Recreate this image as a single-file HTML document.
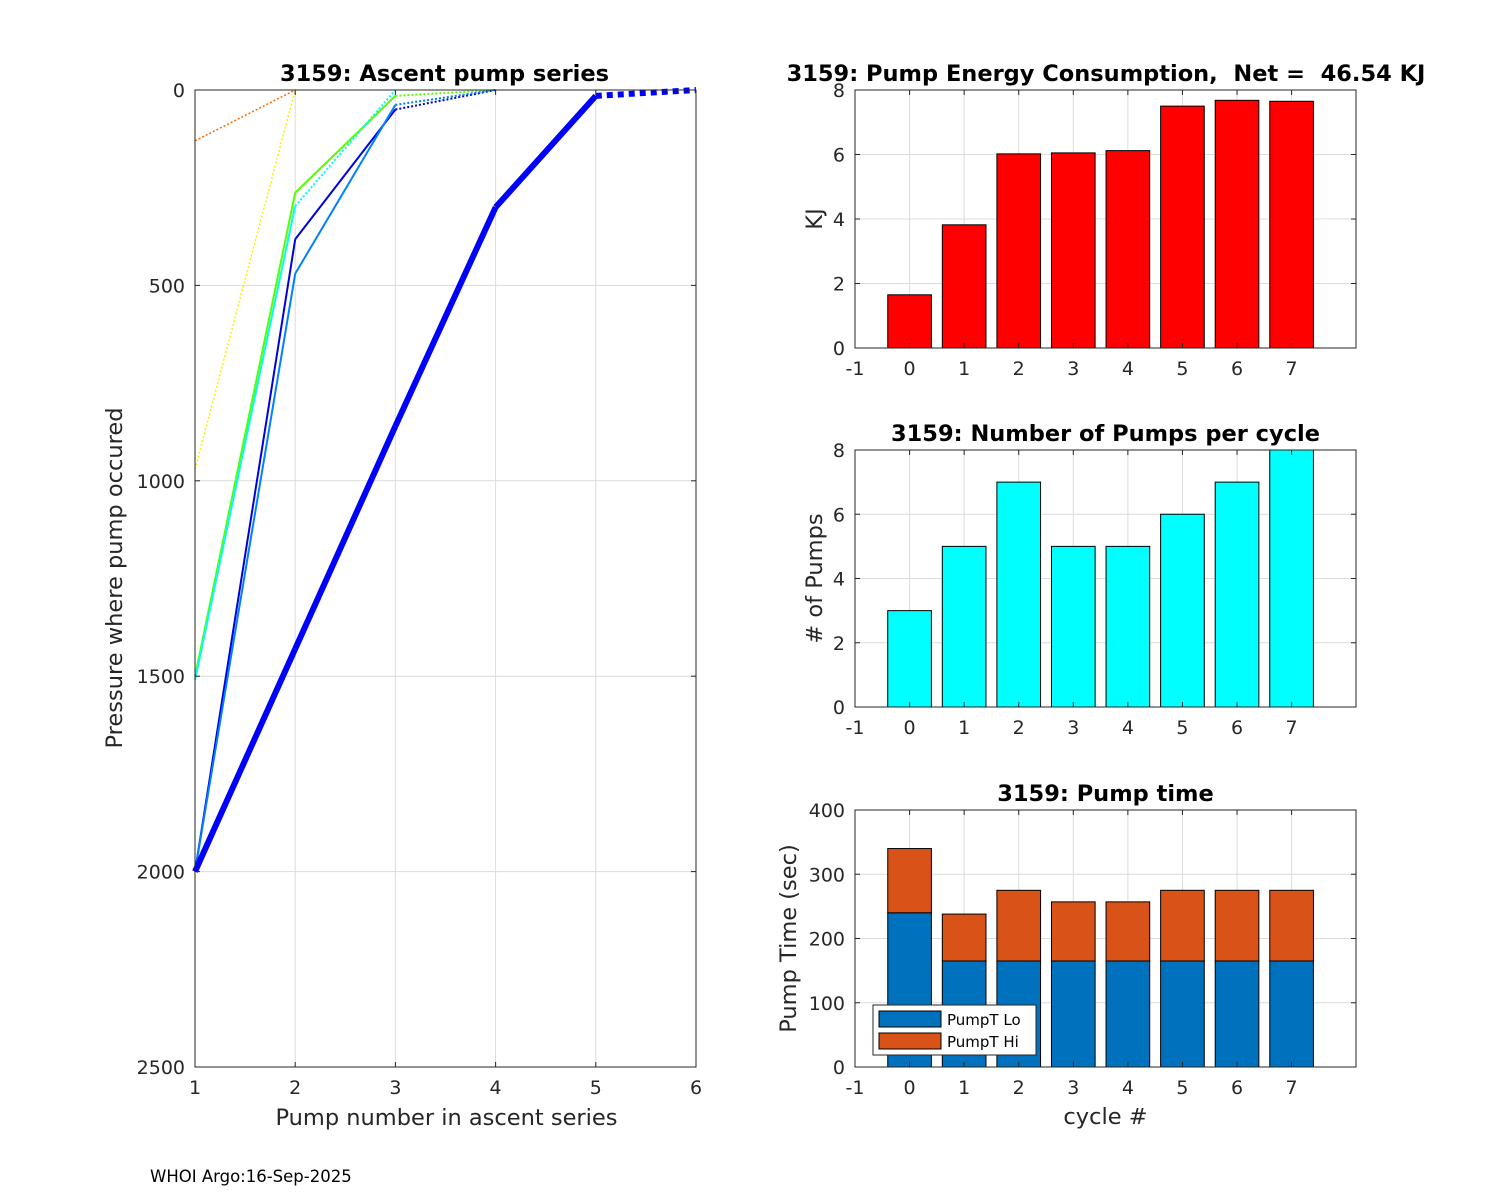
<!DOCTYPE html>
<html><head><meta charset="utf-8"><style>
html,body{margin:0;padding:0;background:#fff;}
svg{display:block;font-family:"DejaVu Sans","Liberation Sans",sans-serif;}
text{white-space:pre;}
</style></head><body>
<svg id="fig" width="1500" height="1200" viewBox="0 0 1500 1200" xmlns="http://www.w3.org/2000/svg">
<rect width="1500" height="1200" fill="#fff"/>
<text x="150" y="1182" font-size="16.5" fill="#000">WHOI Argo:16-Sep-2025</text>
</svg>
<script>
const NS="http://www.w3.org/2000/svg";
const fig=document.getElementById('fig');
function mk(tag,attrs,parent){const e=document.createElementNS(NS,tag);for(const k in attrs)e.setAttribute(k,attrs[k]);(parent||fig).appendChild(e);return e;}
function txt(x,y,s,attrs,parent){const t=mk('text',Object.assign({x:x,y:y,'font-size':19,fill:'#262626'},attrs||{}),parent);t.textContent=s;return t;}

// ---------- Left chart data ----------
const pumpXTicks=[1,2,3,4,5,6];
const pumpYTicks=[0,500,1000,1500,2000,2500];
const seriesColors=['#ff6600','#ffee00','#55ff00','#00ffee','#0000dd','#0080ff','#0000ff'];
const seriesPressure=[
 [130,0],
 [970,0],
 [1500,263,15,0],
 [1510,297,0],
 [2000,382,50,0],
 [2000,470,38,0],
 [2000,1430,860,300,15,0]
];
const seriesSolidCount=[0,0,2,1,2,2,4];
const seriesWidth=[1.5,1.5,2,2,2,2,6];

const L={x0:195,x1:696,y0:90,y1:1067};
const lx=v=>L.x0+(v-1)/5*(L.x1-L.x0);
const ly=v=>L.y0+v/2500*(L.y1-L.y0);

const gL=mk('g',{});


pumpXTicks.forEach(t=>{const l=mk('line',{x1:lx(t),x2:lx(t),y1:L.y0,y2:L.y1,stroke:'#dcdcdc','stroke-width':1},gL);});
pumpYTicks.forEach(t=>{const l=mk('line',{x1:L.x0,x2:L.x1,y1:ly(t),y2:ly(t),stroke:'#dcdcdc','stroke-width':1},gL);});
seriesPressure.forEach((ps,i)=>{
  for(let k=0;k<ps.length-1;k++){
    const solid=k<seriesSolidCount[i];
    const a={x1:lx(k+1),y1:ly(ps[k]),x2:lx(k+2),y2:ly(ps[k+1]),stroke:seriesColors[i],'stroke-width':seriesWidth[i]};
    if(!solid)a['stroke-dasharray']=i===6?'6,5':'2,2';
    const l=mk('line',a,gL);
    
    
  }
});
mk('rect',{x:L.x0,y:L.y0,width:L.x1-L.x0,height:L.y1-L.y0,fill:'none',stroke:'#262626','stroke-width':1},gL);
pumpXTicks.forEach(t=>{mk('line',{x1:lx(t),x2:lx(t),y1:L.y1,y2:L.y1-5,stroke:'#262626'},gL);mk('line',{x1:lx(t),x2:lx(t),y1:L.y0,y2:L.y0+5,stroke:'#262626'},gL);const s=txt(lx(t),L.y1+27,String(t),{'text-anchor':'middle'},gL);});
pumpYTicks.forEach(t=>{mk('line',{x1:L.x0,x2:L.x0+5,y1:ly(t),y2:ly(t),stroke:'#262626'},gL);mk('line',{x1:L.x1,x2:L.x1-5,y1:ly(t),y2:ly(t),stroke:'#262626'},gL);const s=txt(L.x0-10,ly(t)+7,String(t),{'text-anchor':'end'},gL);});
let t1=txt((L.x0+L.x1)/2-1,81,'3159: Ascent pump series',{'text-anchor':'middle','font-weight':'bold','font-size':22.5,fill:'#000'},gL);

t1=txt((L.x0+L.x1)/2+1,1125,'Pump number in ascent series',{'text-anchor':'middle','font-size':22.5},gL);

t1=txt(0,0,'Pressure where pump occured',{'text-anchor':'middle','font-size':22.5,transform:'translate(122,578) rotate(-90)'},gL);


// ---------- Right charts data ----------
const cycles=[0,1,2,3,4,5,6,7];
const cycleTicks=[-1,0,1,2,3,4,5,6,7];
const energyKJ=[1.65,3.82,6.02,6.05,6.12,7.5,7.68,7.65];
const energyTicks=[0,2,4,6,8];
const numPumps=[3,5,7,5,5,6,7,8];
const pumpTicks=[0,2,4,6,8];
const pumpTLo=[240,165,165,165,165,165,165,165];
const pumpTHi=[100,73,110,92,92,110,110,110];
const timeTicks=[0,100,200,300,400];

function barChart(name,y0,y1,ymax,yTicks,stacks,colors,title,ylabel,xlabel,ylabelX){
  const g=mk('g',{});
  
  
  const X0=855,X1=1356,xmin=-1,xmax=8.18;
  const bx=v=>X0+(v-xmin)/(xmax-xmin)*(X1-X0);
  const by=v=>y1-v/ymax*(y1-y0);
  cycleTicks.forEach(t=>{const l=mk('line',{x1:bx(t),x2:bx(t),y1:y0,y2:y1,stroke:'#dcdcdc'},g);});
  yTicks.forEach(t=>{const l=mk('line',{x1:X0,x2:X1,y1:by(t),y2:by(t),stroke:'#dcdcdc'},g);});
  const hw=(bx(0.4)-bx(0));
  cycles.forEach((c,i)=>{
    let base=0;
    stacks.forEach((arr,s)=>{
      const v=arr[i];
      const r=mk('rect',{x:bx(c)-hw,y:by(base+v),width:2*hw,height:by(base)-by(base+v),fill:colors[s],stroke:'#000','stroke-width':1},g);
      
      
      base+=v;
    });
  });
  mk('rect',{x:X0,y:y0,width:X1-X0,height:y1-y0,fill:'none',stroke:'#262626'},g);
  cycleTicks.forEach(t=>{mk('line',{x1:bx(t),x2:bx(t),y1:y1,y2:y1-5,stroke:'#262626'},g);mk('line',{x1:bx(t),x2:bx(t),y1:y0,y2:y0+5,stroke:'#262626'},g);const s=txt(bx(t),y1+27,String(t),{'text-anchor':'middle'},g);});
  yTicks.forEach(t=>{mk('line',{x1:X0,x2:X0+5,y1:by(t),y2:by(t),stroke:'#262626'},g);mk('line',{x1:X1,x2:X1-5,y1:by(t),y2:by(t),stroke:'#262626'},g);const s=txt(X0-10,by(t)+7,String(t),{'text-anchor':'end'},g);});
  let tt=txt((X0+X1)/2,y0-9,title,{'text-anchor':'middle','font-weight':'bold','font-size':22.5,fill:'#000'},g);
  
  tt=txt(0,0,ylabel,{'text-anchor':'middle','font-size':22.5,transform:'translate('+ylabelX+','+((y0+y1)/2)+') rotate(-90)'},g);
  
  if(xlabel){tt=txt((X0+X1)/2,y1+57,xlabel,{'text-anchor':'middle','font-size':22.5},g);}
  return g;
}
const e=barChart('energy-chart',90,348,8,energyTicks,[energyKJ],['#ff0000'],'','KJ',null,822);
const et=txt(1106,81,'3159: Pump Energy Consumption,  Net =  46.54 KJ',{'text-anchor':'middle','font-weight':'bold','font-size':22.5,fill:'#000'},e);

barChart('pumps-chart',450,707,8,pumpTicks,[numPumps],['#00ffff'],'3159: Number of Pumps per cycle','# of Pumps',null,822);
const g3=barChart('pump-time-chart',810,1067,400,timeTicks,[pumpTLo,pumpTHi],['#0072bd','#d95319'],'3159: Pump time','Pump Time (sec)','cycle #',796);

const lg=mk('g',{},g3);


mk('rect',{x:873,y:1005,width:163,height:50,fill:'#fff',stroke:'#262626'},lg);
mk('rect',{x:879,y:1011,width:62,height:16,fill:'#0072bd',stroke:'#000'},lg);
mk('rect',{x:879,y:1033,width:62,height:16,fill:'#d95319',stroke:'#000'},lg);
let le=txt(947,1025,'PumpT Lo',{'font-size':15,fill:'#000'},lg);
le=txt(947,1047,'PumpT Hi',{'font-size':15,fill:'#000'},lg);
</script>
</body></html>
